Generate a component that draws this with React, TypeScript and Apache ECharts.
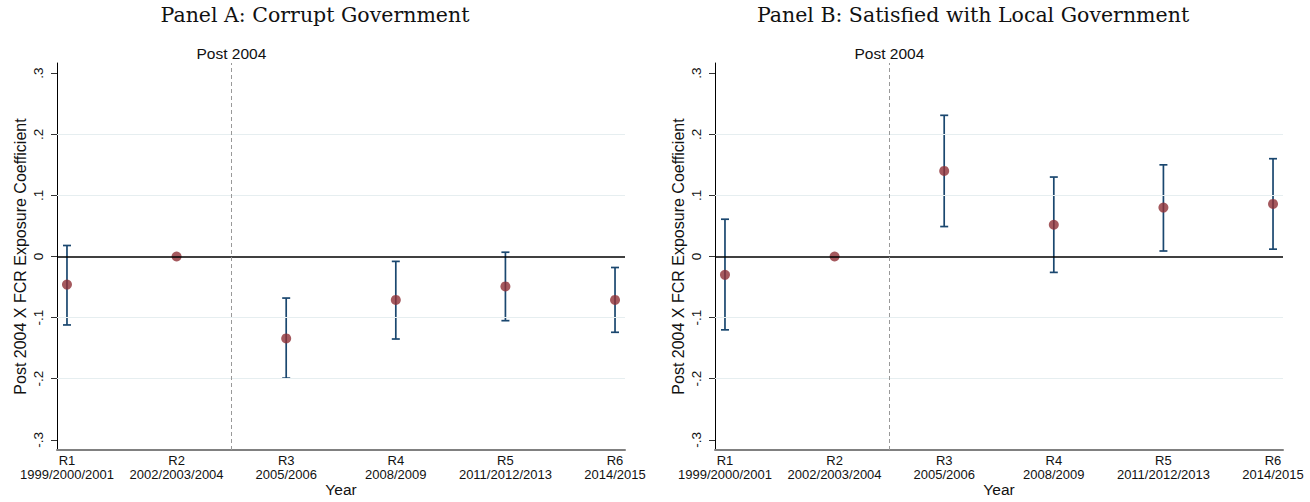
import React, { useEffect, useRef } from "react";
import * as echarts from "echarts";

const roundLabels = ["R1", "R2", "R3", "R4", "R5", "R6"];
const periodLabels = [
  "1999/2000/2001",
  "2002/2003/2004",
  "2005/2006",
  "2008/2009",
  "2011/2012/2013",
  "2014/2015",
];
const roundPositions = [1, 2, 3, 4, 5, 6];

const panelACoef = [-0.046, 0, -0.134, -0.071, -0.049, -0.071];
const panelALow = [-0.112, null, -0.199, -0.135, -0.105, -0.124];
const panelAHigh = [0.018, null, -0.068, -0.008, 0.007, -0.018];

const panelBCoef = [-0.03, 0, 0.14, 0.052, 0.08, 0.086];
const panelBLow = [-0.12, null, 0.049, -0.026, 0.009, 0.012];
const panelBHigh = [0.061, null, 0.231, 0.13, 0.15, 0.16];

const yTickValues = [-0.3, -0.2, -0.1, 0, 0.1, 0.2, 0.3];
const gridLineValues = [-0.2, -0.1, 0.1, 0.2];
const postLineX = 2.5;
const yMin = -0.3166;
const yMax = 0.3166;
const xMin = 0.909;
const xMax = 6.091;

const titles = ["Panel A: Corrupt Government", "Panel B: Satisfied with Local Government"];

const NAVY = "#1a476f";
const MAROON = "#8e2f36";
const SANS = "Liberation Sans, Arial, sans-serif";

function fmtTick(v: number) {
  if (Math.abs(v) < 1e-9) return "0";
  const s = v < 0 ? "-" : "";
  const d = Math.round(Math.abs(v) * 10);
  return s + "." + d;
}

export default function App() {
  const ref = useRef<HTMLDivElement>(null);
  useEffect(() => {
    if (!ref.current) return;
    const chart = echarts.init(ref.current, null, { renderer: "svg" });
    const panels = [
      { coef: panelACoef, low: panelALow, high: panelAHigh },
      { coef: panelBCoef, low: panelBLow, high: panelBHigh },
    ];
    const gridLefts = [57, 715];
    const grids = gridLefts.map((l) => ({
      left: l,
      top: 63,
      width: 568,
      height: 387,
      containLabel: false,
      outerBoundsMode: "none",
    }));
    const xAxes = gridLefts.map((_, i) => ({
      type: "value",
      gridIndex: i,
      min: xMin,
      max: xMax,
      splitLine: { show: false },
      axisLine: { show: true, onZero: false, lineStyle: { color: "#808080", width: 2 } },
      axisTick: { show: false, customValues: roundPositions },
      axisLabel: {
        customValues: roundPositions,
        formatter: (v: number) => {
          const idx = roundPositions.indexOf(Math.round(v));
          return idx >= 0 ? roundLabels[idx] + "\n" + periodLabels[idx] : "";
        },
        fontFamily: SANS,
        fontSize: 13,
        lineHeight: 14,
        color: "#111",
        margin: 3,
      },
      name: "Year",
      nameLocation: "middle",
      nameGap: 31,
      nameMoveOverlap: false,
      nameTextStyle: { fontFamily: SANS, fontSize: 15.5, color: "#111" },
    }));
    const yAxes = gridLefts.map((_, i) => ({
      type: "value",
      gridIndex: i,
      min: yMin,
      max: yMax,
      splitLine: { show: false },
      axisLine: { show: true, onZero: false, lineStyle: { color: "#000", width: 1 } },
      axisTick: { show: true, customValues: yTickValues, length: 6, lineStyle: { color: "#333" } },
      axisLabel: {
        customValues: yTickValues,
        formatter: (v: number) => fmtTick(v),
        rotate: 90,
        fontFamily: SANS,
        fontSize: 13.5,
        color: "#111",
        margin: 12,
      },
      name: "Post 2004 X FCR Exposure Coefficient",
      nameLocation: "middle",
      nameGap: 29,
      nameMoveOverlap: false,
      nameTextStyle: { fontFamily: SANS, fontSize: 16, color: "#111" },
    }));

    const series: any[] = [];
    panels.forEach((p, i) => {
      series.push({
        type: "line",
        xAxisIndex: i,
        yAxisIndex: i,
        data: [],
        z: 1,
        silent: true,
        markLine: {
          silent: true,
          symbol: "none",
          animation: false,
          data: [
            ...gridLineValues.map((g) => ({
              yAxis: g,
              lineStyle: { color: "#e6eef0", width: 1.2, type: "solid" },
              label: { show: false },
            })),
            {
              yAxis: 0,
              lineStyle: { color: "#000", width: 1.5, type: "solid" },
              label: { show: false },
            },
            {
              xAxis: postLineX,
              lineStyle: { color: "#999", width: 1, type: [4, 3] },
              label: {
                show: true,
                position: "end",
                formatter: "Post 2004",
                fontFamily: SANS,
                fontSize: 15.5,
                color: "#111",
                distance: 2,
              },
            },
          ],
        },
      });
      const ciData = roundPositions
        .map((x, k) => [x, p.low[k], p.high[k]])
        .filter((d) => d[1] !== null && d[2] !== null);
      series.push({
        type: "custom",
        xAxisIndex: i,
        yAxisIndex: i,
        z: 2,
        data: ciData,
        encode: { x: 0, y: [1, 2] },
        renderItem: (params: any, api: any) => {
          const x = api.value(0);
          const lo = api.value(1);
          const hi = api.value(2);
          const a = api.coord([x, lo]);
          const b = api.coord([x, hi]);
          const cw = 4;
          const st = { stroke: NAVY, lineWidth: 1.7 };
          return {
            type: "group",
            children: [
              { type: "line", shape: { x1: a[0], y1: a[1], x2: b[0], y2: b[1] }, style: st },
              { type: "line", shape: { x1: a[0] - cw, y1: a[1], x2: a[0] + cw, y2: a[1] }, style: st },
              { type: "line", shape: { x1: b[0] - cw, y1: b[1], x2: b[0] + cw, y2: b[1] }, style: st },
            ],
          };
        },
      });
      series.push({
        type: "scatter",
        xAxisIndex: i,
        yAxisIndex: i,
        z: 3,
        symbol: "circle",
        symbolSize: 10,
        itemStyle: { color: MAROON },
        data: roundPositions.map((x, k) => [x, p.coef[k]]),
      });
    });

    chart.setOption({
      animation: false,
      backgroundColor: "#fff",
      grid: grids,
      xAxis: xAxes,
      yAxis: yAxes,
      series,
      graphic: titles.map((t, i) => ({
        type: "text",
        x: [315, 973][i],
        y: 15,
        style: {
          text: t,
          fontFamily: "DejaVu Serif, serif",
          fontSize: 20.5,
          fill: "#111",
          textAlign: "center",
          textVerticalAlign: "middle",
        },
      })),
    });
    return () => chart.dispose();
  }, []);
  return (
    <div
      ref={ref}
      style={{ position: "fixed", left: 0, top: 0, width: 1310, height: 502, background: "#fff" }}
    />
  );
}
